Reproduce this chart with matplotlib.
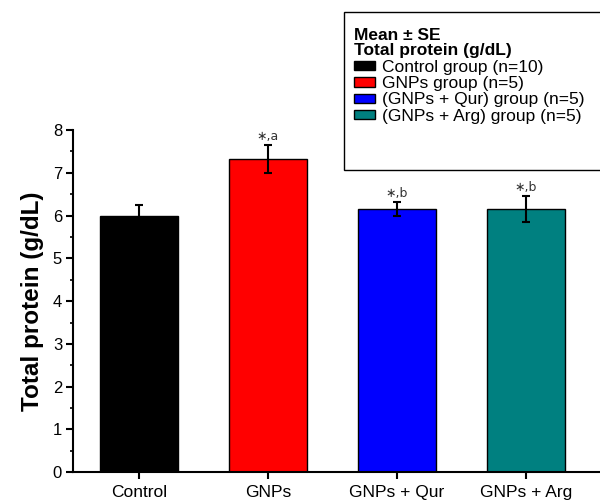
import matplotlib
matplotlib.use("Agg")
import matplotlib.pyplot as plt
from matplotlib.patches import Patch, Rectangle
from matplotlib.ticker import MultipleLocator

plt.rcParams["font.family"] = ["Liberation Sans", "DejaVu Sans"]

groups = ["Control", "GNPs", "GNPs + Qur", "GNPs + Arg"]
means = [6.0, 7.32, 6.15, 6.15]
errors = [0.25, 0.33, 0.17, 0.30]
colors = ["#000000", "#ff0000", "#0000ff", "#008080"]
marks = ["", "\u2217,a", "\u2217,b", "\u2217,b"]
legend_labels = [
    "Control group (n=10)",
    "GNPs group (n=5)",
    "(GNPs + Qur) group (n=5)",
    "(GNPs + Arg) group (n=5)",
]


def plot_chart():
    fig = plt.figure(figsize=(6, 5.04), dpi=100)
    ax = fig.add_axes([0.122, 0.063, 0.878, 0.679])

    x = range(len(groups))
    ax.bar(x, means, width=0.6, color=colors, edgecolor="black", linewidth=1.0,
           yerr=errors, capsize=3, error_kw={"elinewidth": 1.5, "capthick": 1.5})

    for xi, m, e, t in zip(x, means, errors, marks):
        if t:
            ax.text(xi, m + e + 0.05, t, ha="center", va="bottom", fontsize=9,
                    color="#333333", family=["DejaVu Sans"])

    ax.set_xlim(-0.51, 3.574)
    ax.set_ylim(0, 8)
    ax.set_xticks(list(x))
    ax.set_xticklabels(groups)
    ax.yaxis.set_major_locator(MultipleLocator(1))
    ax.yaxis.set_minor_locator(MultipleLocator(0.5))
    ax.tick_params(axis="both", which="major", direction="out", length=5, width=1.5)
    ax.tick_params(axis="y", labelsize=12, pad=3)
    ax.tick_params(axis="x", labelsize=12.5, pad=4)
    ax.tick_params(axis="y", which="minor", direction="out", length=2.5, width=1.2)
    ax.set_ylabel("Total protein (g/dL)", fontsize=17.5, fontweight="bold", labelpad=6)

    for side in ["top", "right"]:
        ax.spines[side].set_visible(False)
    for side in ["left", "bottom"]:
        ax.spines[side].set_linewidth(1.5)

    # legend frame drawn separately (taller than its contents in the original)
    fig.patches.append(Rectangle((344 / 600, 1 - 170 / 504), 0.5, (170 - 12) / 504,
                                 transform=fig.transFigure, facecolor="white",
                                 edgecolor="black", linewidth=1.0, zorder=0))

    handles = [Patch(facecolor=c, edgecolor="black", linewidth=1.0) for c in colors]
    leg = fig.legend(handles, legend_labels, loc="upper left", bbox_to_anchor=(0.59, 0.945),
                     title="Mean ± SE\nTotal protein (g/dL)", alignment="left",
                     fontsize=12.5, title_fontproperties={"weight": "bold", "size": 12.5},
                     frameon=False, handlelength=1.2, handleheight=0.45, handletextpad=0.4,
                     labelspacing=0.08, borderpad=0, borderaxespad=0)
    leg.get_title().set_linespacing(1.05)

    fig.savefig("out.png", dpi=100)


def main():
    plot_chart()


if __name__ == "__main__":
    main()
